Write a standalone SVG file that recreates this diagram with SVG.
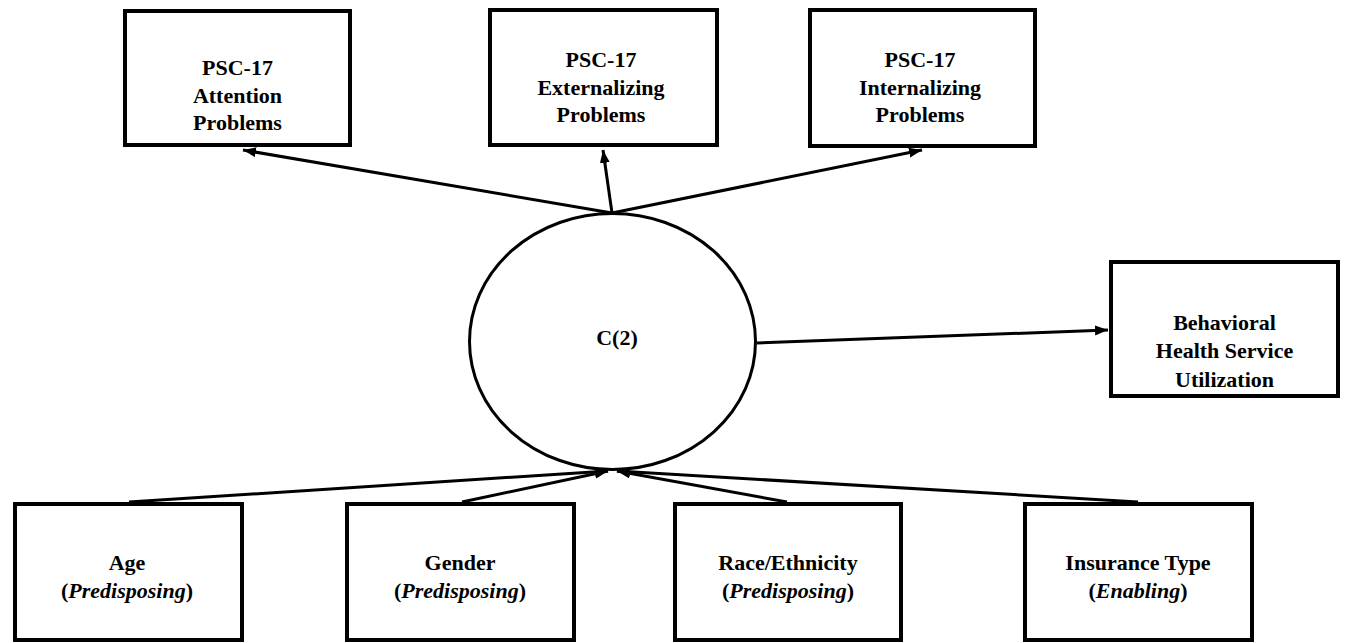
<svg xmlns="http://www.w3.org/2000/svg" width="1348" height="643" viewBox="0 0 1348 643">
<style>
.box{fill:#fff;stroke:#000;stroke-width:4}
.ell{fill:#fff;stroke:#000;stroke-width:3}
.t{font-family:"Liberation Serif","Times New Roman",serif;font-weight:bold;font-size:22px;text-anchor:middle;fill:#000}
.conn line{stroke:#000;stroke-width:3;marker-end:url(#ah)}
</style>
<defs>
<marker id="ah" markerUnits="userSpaceOnUse" markerWidth="14" markerHeight="12" refX="13" refY="5" orient="auto">
<path d="M0,0 L13,5 L0,10 Z" fill="#000"/>
</marker>
</defs>
<rect width="1348" height="643" fill="#fff"/>
<g id="n-c2">
<ellipse class="ell" cx="612.5" cy="341.5" rx="143" ry="128"/>
<text class="t" x="617" y="345">C(2)</text>
</g>
<g class="conn" id="connectors">
<line x1="612" y1="213" x2="243" y2="150"/>
<line x1="612" y1="213" x2="603" y2="150"/>
<line x1="612" y1="213" x2="922" y2="150"/>
<line x1="757" y1="343" x2="1108" y2="330"/>
<line x1="129" y1="502" x2="608" y2="471"/>
<line x1="462" y1="502" x2="608" y2="471"/>
<line x1="787" y1="502" x2="617" y2="471"/>
<line x1="1138" y1="502" x2="617" y2="471"/>
</g>
<g id="n-attention">
<rect class="box" x="125" y="11" width="225" height="134"/>
<text class="t" x="237.5" y="75">PSC-17</text>
<text class="t" x="237.5" y="103">Attention</text>
<text class="t" x="237.5" y="130">Problems</text>
</g>
<g id="n-externalizing">
<rect class="box" x="490" y="10" width="227" height="135"/>
<text class="t" x="601" y="67">PSC-17</text>
<text class="t" x="601" y="95">Externalizing</text>
<text class="t" x="601" y="122">Problems</text>
</g>
<g id="n-internalizing">
<rect class="box" x="810" y="10" width="225" height="136"/>
<text class="t" x="920" y="67">PSC-17</text>
<text class="t" x="920" y="95">Internalizing</text>
<text class="t" x="920" y="122">Problems</text>
</g>
<g id="n-behavioral">
<rect class="box" x="1111" y="262" width="227" height="134"/>
<text class="t" x="1224.5" y="330">Behavioral</text>
<text class="t" x="1224.5" y="358">Health Service</text>
<text class="t" x="1224.5" y="387">Utilization</text>
</g>
<g id="n-age">
<rect class="box" x="15" y="504" width="227" height="136"/>
<text class="t" x="127" y="570">Age</text>
<text class="t" x="127" y="598">(<tspan font-style="italic">Predisposing</tspan>)</text>
</g>
<g id="n-gender">
<rect class="box" x="347" y="504" width="227" height="136"/>
<text class="t" x="460" y="570">Gender</text>
<text class="t" x="460" y="598">(<tspan font-style="italic">Predisposing</tspan>)</text>
</g>
<g id="n-race">
<rect class="box" x="675" y="504" width="226" height="136"/>
<text class="t" x="788" y="570">Race/Ethnicity</text>
<text class="t" x="788" y="598">(<tspan font-style="italic">Predisposing</tspan>)</text>
</g>
<g id="n-insurance">
<rect class="box" x="1025" y="504" width="227" height="136"/>
<text class="t" x="1138" y="570">Insurance Type</text>
<text class="t" x="1138" y="598">(<tspan font-style="italic">Enabling</tspan>)</text>
</g>
</svg>
